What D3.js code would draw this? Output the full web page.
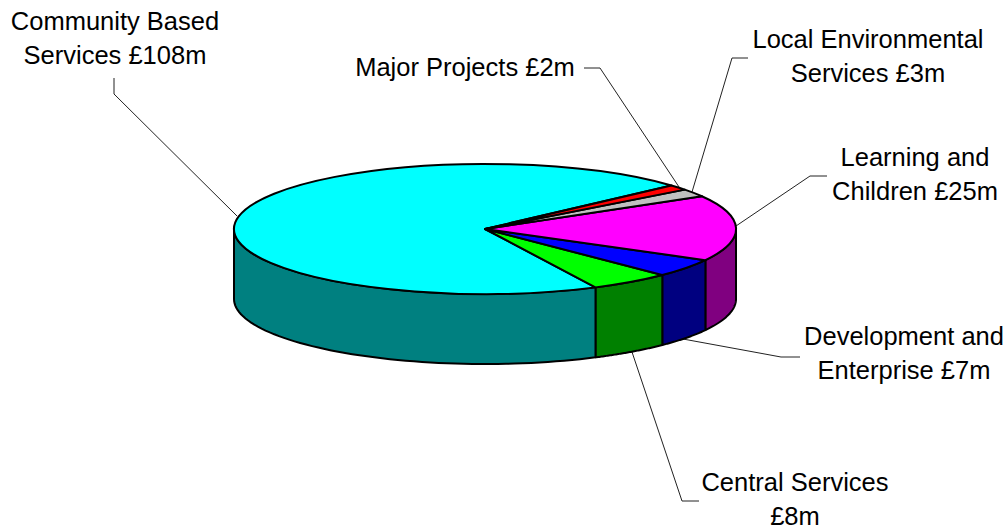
<!DOCTYPE html>
<html><head><meta charset="utf-8">
<script src="https://cdnjs.cloudflare.com/ajax/libs/d3/7.8.5/d3.min.js"></script>
<style>html,body{margin:0;background:#fff}svg{display:block}text{font-family:"Liberation Sans",Arial,sans-serif;font-size:25.5px;fill:#000}</style>
</head><body><div id="c"></div>
<script>
const categories=["Major Projects","Local Environmental Services","Learning and Children","Development and Enterprise","Central Services","Community Based Services"];
const values=[2,3,25,7,8,108];
const topColors=["#ff0000","#c0c0c0","#ff00ff","#0000ff","#00ff00","#00ffff"];
const sideColors=["#800000","#808080","#800080","#000080","#008000","#008080"];
const labels=[
 {lines:["Major Projects £2m"],x:465,y:[76],leader:[[584,68],[600,68],[679,187]]},
 {lines:["Local Environmental","Services £3m"],x:868,y:[48,82],leader:[[748,58],[732,58],[692,192]]},
 {lines:["Learning and","Children £25m"],x:915,y:[166,200],leader:[[827,176],[810,176],[736,226]]},
 {lines:["Development and","Enterprise £7m"],x:904,y:[345,379],leader:[[800,357],[781,357],[683,339]]},
 {lines:["Central Services","£8m"],x:795,y:[491,525],leader:[[699,501],[682,501],[632,352]]},
 {lines:["Community Based","Services £108m"],x:115,y:[30,64],leader:[[114,78],[114,94],[237,216]]}
];
const W=1004,H=527,cx=485,cy=229,rx=251,ry=65,depth=70;
const svg=d3.select("#c").append("svg").attr("width",W).attr("height",H);
const sx=d3.scaleLinear().domain([-1,1]).range([cx-rx,cx+rx]);
const sy=d3.scaleLinear().domain([-1,1]).range([cy-ry,cy+ry]);
const pie=d3.pie().sort(null).value(d=>d).startAngle(48*Math.PI/180).endAngle((48+360)*Math.PI/180);
const arcs=pie(values);
const px=a=>sx(Math.sin(a)), py=a=>sy(-Math.cos(a));
const line=d3.line();

// leaders
const lg=svg.append("g").attr("fill","none").attr("stroke","#222").attr("stroke-width",1);
lg.selectAll("path").data(labels).join("path").attr("d",d=>line(d.leader));

// side walls: only the front half of the rim is visible
const sides=svg.append("g");
arcs.forEach((a,i)=>{
  const s=Math.max(a.startAngle,Math.PI/2), e=Math.min(a.endAngle,3*Math.PI/2);
  if(e<=s) return;
  const ts=d3.range(0,61).map(k=>s+(e-s)*k/60);
  const upper=ts.map(t=>[px(t),py(t)]);
  const lower=ts.slice().reverse().map(t=>[px(t),py(t)+depth]);
  sides.append("path").attr("d",line(upper.concat(lower))+"Z")
    .attr("fill",sideColors[i]).attr("stroke","#000").attr("stroke-width",2).attr("stroke-linejoin","round");
});

// top face
const arcGen=d3.arc().innerRadius(0).outerRadius(1);
svg.append("g").attr("transform",`translate(${cx},${cy}) scale(${rx},${ry})`)
 .selectAll("path").data(arcs.slice().reverse()).join("path")
 .attr("d",arcGen)
 .attr("fill",d=>topColors[d.index])
 .attr("stroke","#000").attr("stroke-width",2).attr("stroke-linejoin","round")
 .attr("vector-effect","non-scaling-stroke");

// labels
const tg=svg.append("g").attr("text-anchor","middle");
labels.forEach(l=>{
  l.lines.forEach((t,j)=>tg.append("text").attr("x",l.x).attr("y",l.y[j]).text(t));
});
</script></body></html>
